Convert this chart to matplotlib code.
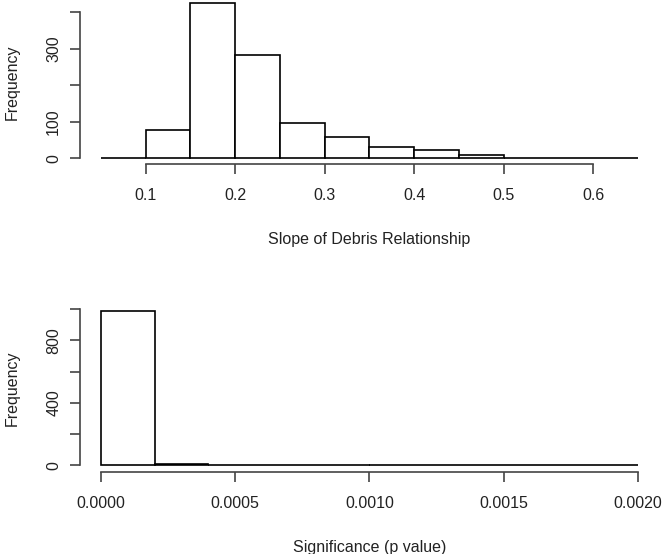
import numpy as np
import matplotlib
matplotlib.use("Agg")
import matplotlib.pyplot as plt

# histogram 1: slope of debris relationship
slope_edges = [0.05, 0.10, 0.15, 0.20, 0.25, 0.30, 0.35, 0.40, 0.45, 0.50, 0.55, 0.60, 0.65]
slope_counts = [2, 77, 424, 283, 96, 58, 30, 24, 9, 1, 1, 1]
slope_xticks = [0.1, 0.2, 0.3, 0.4, 0.5, 0.6]
slope_yticks = [0, 100, 200, 300, 400]
slope_ylabels = ["0", "100", "", "300", ""]

# histogram 2: p values
p_edges = [0.0000, 0.0002, 0.0004, 0.0006, 0.0008, 0.0010, 0.0012, 0.0014, 0.0016, 0.0018, 0.0020]
p_counts = [990, 8, 0, 0, 0, 0, 0, 0, 0, 0]
p_xticks = [0.0000, 0.0005, 0.0010, 0.0015, 0.0020]
p_xlabels = ["0.0000", "0.0005", "0.0010", "0.0015", "0.0020"]
p_yticks = [0, 200, 400, 600, 800, 1000]
p_ylabels = ["0", "", "400", "", "800", ""]

plt.rcParams['font.family'] = ['Liberation Sans', 'DejaVu Sans']
TXT = '#222222'
AX = '#444444'

W, H = 666, 554
fig = plt.figure(figsize=(W / 100, H / 100), dpi=100)


def r_hist(ax, edges, counts, xticks, xlabels, yticks, ylabels, xlabel):
    edges = np.array(edges)
    ax.bar(edges[:-1], counts, width=np.diff(edges), align='edge',
           facecolor='white', edgecolor='black', linewidth=1.2)
    for s in ['top', 'right']:
        ax.spines[s].set_visible(False)
    ax.spines['bottom'].set_bounds(xticks[0], xticks[-1])
    ax.spines['left'].set_bounds(yticks[0], yticks[-1])
    for s in ['bottom', 'left']:
        ax.spines[s].set_color(AX)
        ax.spines[s].set_linewidth(1.2)
    ax.set_xticks(xticks)
    ax.set_xticklabels(xlabels)
    ax.set_yticks(yticks)
    ax.set_yticklabels(ylabels, rotation=90, va='center')
    ax.tick_params(length=7.2, width=1.2, color=AX, labelsize=11.5,
                   labelcolor=TXT)
    ax.tick_params(axis='x', pad=10)
    ax.tick_params(axis='y', pad=6)
    ax.set_xlabel(xlabel, fontsize=11.5, color=TXT, labelpad=21)
    ax.set_ylabel('Frequency', fontsize=11.5, color=TXT, labelpad=19)
    ax.patch.set_visible(False)


ax1 = fig.add_axes([79.5 / W, (H - 164.3) / H, 580 / W, 164.3 / H])
r_hist(ax1, slope_edges, slope_counts, slope_xticks,
       [str(v) for v in slope_xticks], slope_yticks, slope_ylabels,
       'Slope of Debris Relationship')
ax1.set_xlim(0.026, 0.674)
ax1.set_ylim(-16.4, 433)

ax2 = fig.add_axes([79.5 / W, (H - 471.7) / H, 580 / W, (471.7 - 304.5) / H])
r_hist(ax2, p_edges, p_counts, p_xticks, p_xlabels, p_yticks, p_ylabels,
       'Significance (p value)')
ax2.set_xlim(-0.00008, 0.00208)
ax2.set_ylim(-40, 1030)

fig.savefig('out.png', dpi=100)
